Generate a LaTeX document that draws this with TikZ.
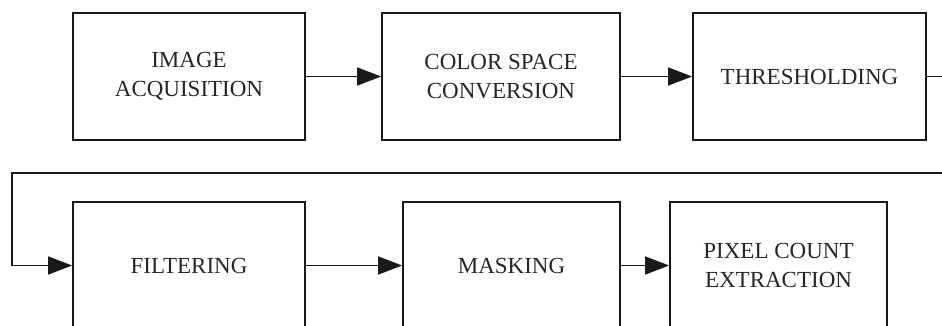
\documentclass[tikz,border=0pt]{standalone}
\usepackage{fontspec}
\setmainfont{Liberation Serif}
\usetikzlibrary{arrows.meta}
\begin{document}
\begin{tikzpicture}[x=1pt,y=-1pt,
  stage/.style={draw=black!90, line width=1.8pt, minimum height=127pt,
    align=center, inner sep=0pt, text=black!85,
    font=\fontsize{23}{29}\selectfont},
  flow/.style={draw=black!90, line width=1.6pt,
    -{Triangle[length=24pt,width=18pt]}}]
\useasboundingbox (0,0) rectangle (942,326);

% upper row
\node[stage, minimum width=232pt] (acq) at (189,76.5) {IMAGE\\ACQUISITION};
\node[stage, minimum width=238pt] (csc) at (501,76.5) {COLOR SPACE\\CONVERSION};
\node[stage, minimum width=233pt] (thr) at (809.5,76.5) {THRESHOLDING};

% lower row
\node[stage, minimum width=232pt] (fil) at (189,265.5) {FILTERING};
\node[stage, minimum width=217pt] (msk) at (511.5,265.5) {MASKING};
\node[stage, minimum width=217pt] (pix) at (778.5,265.5) {PIXEL COUNT\\EXTRACTION};

% connectors
\draw[flow] (acq) -- (csc);
\draw[flow] (csc) -- (thr);
\coordinate (wrap) at (12,173);
\draw[flow] (thr.east) -- ++(30,0) |- (wrap) |- (fil.west);
\draw[flow] (fil) -- (msk);
\draw[flow] (msk) -- (pix);
\end{tikzpicture}
\end{document}
